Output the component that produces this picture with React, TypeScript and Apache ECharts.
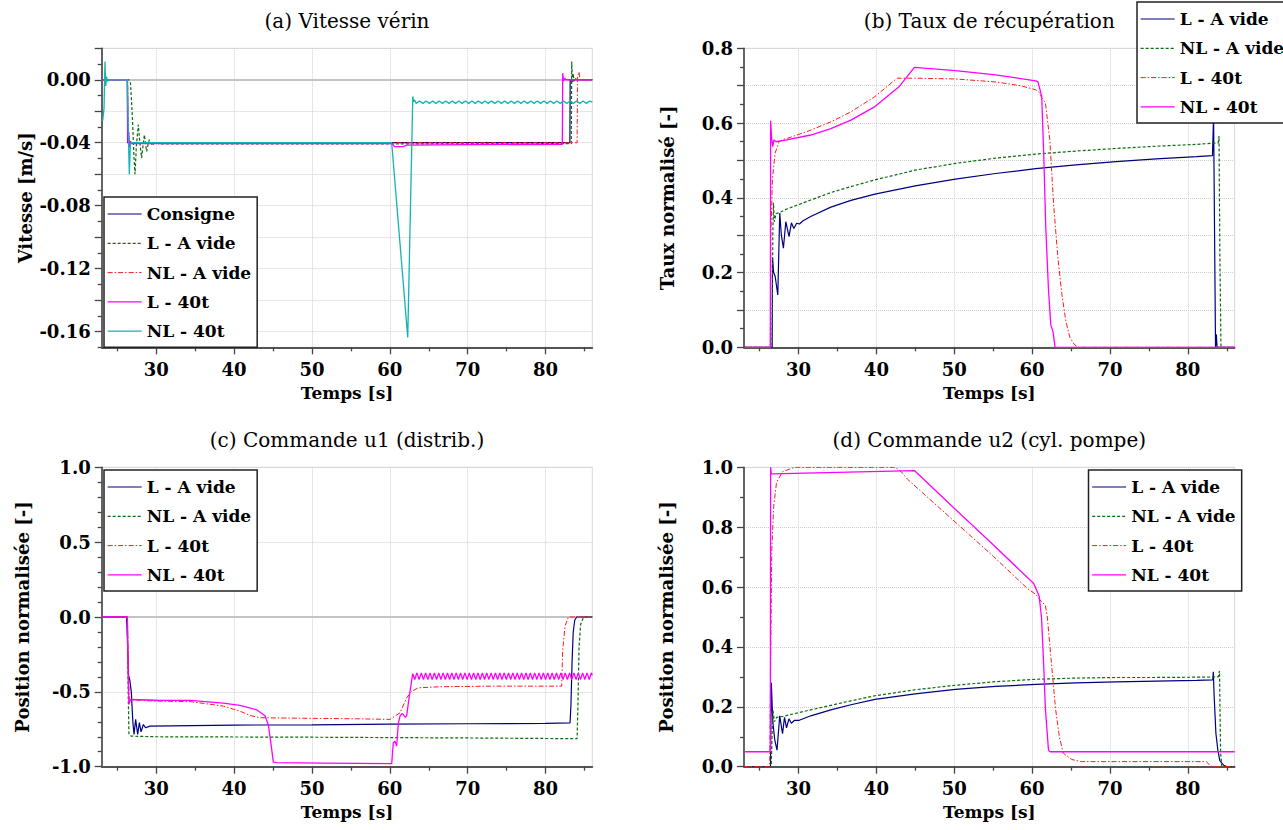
import React, { useEffect, useRef } from 'react';
import * as echarts from 'echarts';

const FONT = '"DejaVu Serif", serif';

// ---------- axes ----------
const X_MIN = 23;
const X_MAX = 86;
const X_MAJOR = [30, 40, 50, 60, 70, 80];
const X_MINOR = [25, 35, 45, 55, 65, 75, 85];

const A_Y = [-0.17, 0.02];
const A_MAJOR = [-0.16, -0.14, -0.12, -0.1, -0.08, -0.06, -0.04, -0.02, 0, 0.02];
const A_LABELS = [-0.16, -0.12, -0.08, -0.04, 0];
const A_MINOR = [-0.17, -0.15, -0.13, -0.11, -0.09, -0.07, -0.05, -0.03, -0.01, 0.01];

const B_Y = [0, 0.8];
const B_MAJOR = [0, 0.1, 0.2, 0.3, 0.4, 0.5, 0.6, 0.7, 0.8];
const B_LABELS = [0, 0.2, 0.4, 0.6, 0.8];
const B_MINOR = [0.05, 0.15, 0.25, 0.35, 0.45, 0.55, 0.65, 0.75];

const C_Y = [-1, 1];
const C_MAJOR = [-1, -0.5, 0, 0.5, 1];
const C_LABELS = [-1, -0.5, 0, 0.5, 1];
const C_MINOR = [-0.9, -0.8, -0.7, -0.6, -0.4, -0.3, -0.2, -0.1, 0.1, 0.2, 0.3, 0.4, 0.6, 0.7, 0.8, 0.9];

const D_Y = [0, 1];
const D_MAJOR = [0, 0.2, 0.4, 0.6, 0.8, 1];
const D_LABELS = [0, 0.2, 0.4, 0.6, 0.8, 1];
const D_MINOR = [0.1, 0.3, 0.5, 0.7, 0.9];

// ---------- (a) Vitesse vérin ----------
const A_consigne = [[23, 0], [26.29, 0], [26.32, -0.04], [83.12, -0.04], [83.16, 0], [86, 0]];
const A_lVide = [[23, 0], [26.5, 0], [26.7, -0.002], [26.95, -0.025], [27.15, -0.05], [27.28, -0.06], [27.45, -0.042], [27.7, -0.0285], [27.9, -0.04], [28.13, -0.0497], [28.3, -0.042], [28.48, -0.035], [28.63, -0.041], [28.78, -0.0455], [28.95, -0.041], [29.12, -0.038], [29.3, -0.04], [29.46, -0.0418], [29.85, -0.0395], [30.3, -0.0407], [60, -0.0408], [83.3, -0.0406], [83.36, 0.0116], [83.45, -0.002], [83.55, 0.004], [83.65, -0.001], [83.8, 0.001], [84, 0], [86, 0]];
const A_nlVide = [[23, 0], [26.33, 0], [26.42, -0.04], [84.05, -0.04], [84.1, 0.002], [84.3, 0.005], [84.4, 0], [86, 0]];
const A_l40 = [[23, 0], [26.3, 0], [26.38, -0.04], [26.48, -0.033], [26.58, -0.043], [26.7, -0.039], [26.85, -0.0405], [60.3, -0.0405], [60.6, -0.0425], [61.7, -0.0425], [62.2, -0.0415], [70, -0.0412], [82.15, -0.041], [82.2, 0.0042], [82.3, -0.001], [82.45, 0.001], [82.6, 0], [86, 0]];
const A_nl40 = [[23, -0.026], [23.13, -0.026], [23.3, -0.018], [23.42, 0.0116], [23.52, -0.004], [23.62, 0.002], [23.75, -0.001], [23.9, 0], [26.3, 0], [26.42, -0.035], [26.55, -0.06], [26.68, -0.041], [26.8, -0.04], [60.24, -0.04], [62.3, -0.1638], [62.95, -0.0106], [63.05, -0.014], [63.15, -0.0128],
  [63.40, -0.0150], [63.82, -0.0135], [64.24, -0.0150], [64.66, -0.0135], [65.08, -0.0150], [65.50, -0.0135], [65.92, -0.0150], [66.34, -0.0135], [66.76, -0.0150], [67.18, -0.0135], [67.60, -0.0150], [68.02, -0.0135], [68.44, -0.0150], [68.86, -0.0135], [69.28, -0.0150], [69.70, -0.0135], [70.12, -0.0150], [70.54, -0.0135], [70.96, -0.0150], [71.38, -0.0135], [71.80, -0.0150], [72.22, -0.0135], [72.64, -0.0150], [73.06, -0.0135], [73.48, -0.0150], [73.90, -0.0135], [74.32, -0.0150], [74.74, -0.0135], [75.16, -0.0150], [75.58, -0.0135], [76.00, -0.0150], [76.42, -0.0135], [76.84, -0.0150], [77.26, -0.0135], [77.68, -0.0150], [78.10, -0.0135], [78.52, -0.0150], [78.94, -0.0135], [79.36, -0.0150], [79.78, -0.0135], [80.20, -0.0150], [80.62, -0.0135], [81.04, -0.0150], [81.46, -0.0135], [81.88, -0.0150], [82.30, -0.0135], [82.72, -0.0150], [83.14, -0.0135], [83.56, -0.0150], [83.98, -0.0135], [84.40, -0.0150], [84.82, -0.0135], [85.24, -0.0150], [85.66, -0.0135], [86, -0.0142]];

// ---------- (b) Taux de récupération ----------
const B_lVide = [[23, 0], [26.62, 0], [26.66, 0.24], [26.8, 0.2], [27.0, 0.19], [27.34, 0.14], [27.59, 0.359], [27.8, 0.3], [28.06, 0.265], [28.37, 0.336], [28.78, 0.296], [29.09, 0.333], [29.4, 0.318], [29.76, 0.332], [30.13, 0.33], [30.54, 0.338], [31.57, 0.35], [34.15, 0.375], [36.73, 0.393], [39.82, 0.41], [44.98, 0.432], [50.14, 0.45], [55.3, 0.465], [60.46, 0.478], [65.62, 0.488], [70.78, 0.497], [75.94, 0.504], [81.1, 0.51], [83.16, 0.513], [83.3, 0.62], [83.55, 0], [83.65, 0.035], [83.75, 0], [86, 0]];
const B_nlVide = [[23, 0], [26.6, 0], [26.7, 0.3], [26.78, 0.387], [26.9, 0.336], [27.1, 0.358], [27.5, 0.36], [28.5, 0.37], [31.57, 0.394], [34.15, 0.414], [36.73, 0.43], [39.82, 0.448], [44.98, 0.474], [50.14, 0.492], [55.3, 0.506], [60.46, 0.517], [65.62, 0.525], [70.78, 0.532], [75.94, 0.538], [81.1, 0.543], [83.9, 0.547], [84.0, 0.565], [84.1, 0.26], [84.25, 0], [86, 0]];
const B_l40 = [[23, 0], [26.38, 0], [26.45, 0.3], [26.65, 0.45], [27.0, 0.52], [27.5, 0.55], [28.0, 0.556], [29, 0.562], [31.57, 0.581], [34.15, 0.603], [36.73, 0.63], [39.82, 0.671], [42.66, 0.72], [44.98, 0.72], [50.14, 0.718], [55.3, 0.71], [58.5, 0.7], [60.46, 0.689], [61.0, 0.68], [61.23, 0.667], [61.7, 0.655], [62.27, 0.555], [62.78, 0.376], [63.3, 0.242], [63.81, 0.143], [64.33, 0.07], [64.84, 0.027], [65.4, 0.008], [65.88, 0], [86, 0]];
const B_nl40 = [[23, 0], [26.38, 0], [26.42, 0.606], [26.55, 0.56], [26.68, 0.537], [26.85, 0.555], [27.1, 0.55], [28.5, 0.555], [31.57, 0.568], [34.15, 0.585], [36.73, 0.608], [39.82, 0.644], [42.9, 0.697], [44.88, 0.749], [50.14, 0.74], [55.3, 0.729], [60.46, 0.713], [60.75, 0.71], [61.0, 0.69], [61.23, 0.671], [61.5, 0.51], [61.75, 0.322], [62.1, 0.154], [62.4, 0.06], [62.7, 0.04], [62.94, 0], [86, 0]];

// ---------- (c) Commande u1 ----------
const C_lVide = [[23, 0], [26.2, 0], [26.3, -0.15], [26.45, -0.39], [26.6, -0.42], [26.8, -0.5], [27.0, -0.7], [27.15, -0.784], [27.36, -0.684], [27.62, -0.784], [27.84, -0.705], [28.05, -0.767], [28.35, -0.718], [28.65, -0.74], [29.2, -0.729], [40.03, -0.722], [50, -0.72], [60.02, -0.716], [70, -0.713], [79.97, -0.711], [83.14, -0.707], [83.25, -0.6], [83.4, -0.3], [83.55, -0.1], [83.75, -0.02], [84.0, 0], [86, 0]];
const C_nlVide = [[23, 0], [26.3, 0], [26.4, -0.5], [26.5, -0.784], [26.8, -0.796], [30, -0.8], [50, -0.803], [70, -0.808], [84.05, -0.813], [84.15, -0.6], [84.3, -0.2], [84.5, -0.05], [84.8, -0.01], [85.2, 0], [86, 0]];
const C_l40 = [[23, 0], [26.3, 0], [26.45, -0.4], [26.55, -0.551], [28, -0.557], [30.06, -0.562], [34.34, -0.565], [38.62, -0.595], [40.76, -0.629], [42.05, -0.658], [43.33, -0.673], [50, -0.677], [55.74, -0.68], [60.02, -0.684], [61.31, -0.64], [62.16, -0.54], [62.81, -0.496], [63.66, -0.473], [66.44, -0.466], [72.86, -0.462], [82.07, -0.462], [82.2, -0.22], [82.5, -0.06], [82.93, 0], [86, 0]];
const C_nl40 = [[23, 0], [26.3, 0], [26.4, -0.4], [26.5, -0.584], [26.7, -0.551], [30, -0.556], [34.34, -0.557], [38.62, -0.575], [40.76, -0.59], [42.9, -0.62], [43.97, -0.66], [44.4, -0.72], [44.83, -0.884], [45.04, -0.969], [45.47, -0.973], [51.46, -0.976], [60.24, -0.98], [60.35, -0.9], [60.45, -0.84], [60.66, -0.83], [60.88, -0.862], [61.09, -0.711], [61.31, -0.662], [61.55, -0.645], [61.74, -0.651], [61.95, -0.67], [62.16, -0.66], [62.5, -0.529], [62.94, -0.378],
  [63.20, -0.418], [63.48, -0.373], [63.76, -0.418], [64.04, -0.373], [64.32, -0.418], [64.60, -0.373], [64.88, -0.418], [65.16, -0.373], [65.44, -0.418], [65.72, -0.373], [66.00, -0.418], [66.28, -0.373], [66.56, -0.418], [66.84, -0.373], [67.12, -0.418], [67.40, -0.373], [67.68, -0.418], [67.96, -0.373], [68.24, -0.418], [68.52, -0.373], [68.80, -0.418], [69.08, -0.373], [69.36, -0.418], [69.64, -0.373], [69.92, -0.418], [70.20, -0.373], [70.48, -0.418], [70.76, -0.373], [71.04, -0.418], [71.32, -0.373], [71.60, -0.418], [71.88, -0.373], [72.16, -0.418], [72.44, -0.373], [72.72, -0.418], [73.00, -0.373], [73.28, -0.418], [73.56, -0.373], [73.84, -0.418], [74.12, -0.373], [74.40, -0.418], [74.68, -0.373], [74.96, -0.418], [75.24, -0.373], [75.52, -0.418], [75.80, -0.373], [76.08, -0.418], [76.36, -0.373], [76.64, -0.418], [76.92, -0.373], [77.20, -0.418], [77.48, -0.373], [77.76, -0.418], [78.04, -0.373], [78.32, -0.418], [78.60, -0.373], [78.88, -0.418], [79.16, -0.373], [79.44, -0.418], [79.72, -0.373], [80.00, -0.418], [80.28, -0.373], [80.56, -0.418], [80.84, -0.373], [81.12, -0.418], [81.40, -0.373], [81.68, -0.418], [81.96, -0.373], [82.24, -0.418], [82.52, -0.373], [82.80, -0.418], [83.08, -0.373], [83.36, -0.418], [83.64, -0.373], [83.92, -0.418], [84.20, -0.373], [84.48, -0.418], [84.76, -0.373], [85.04, -0.418], [85.32, -0.373], [85.60, -0.418], [85.88, -0.373], [86, -0.39]];

// ---------- (d) Commande u2 ----------
const D_lVide = [[23, 0], [26.4, 0], [26.51, 0.28], [26.7, 0.15], [26.95, 0.09], [27.24, 0.055], [27.59, 0.17], [27.95, 0.11], [28.2, 0.165], [28.46, 0.13], [28.77, 0.16], [29.08, 0.145], [29.49, 0.155], [30.1, 0.155], [31.57, 0.17], [34.15, 0.19], [36.73, 0.207], [39.82, 0.225], [44.98, 0.243], [50.14, 0.258], [55.3, 0.268], [60.46, 0.275], [65.62, 0.28], [70.78, 0.283], [75.94, 0.286], [81.1, 0.288], [83.2, 0.29], [83.27, 0.317], [83.35, 0.25], [83.6, 0.111], [83.85, 0.056], [84.1, 0.02], [84.6, 0.005], [85.07, 0], [86, 0]];
const D_nlVide = [[23, 0], [26.5, 0], [26.6, 0.1], [26.72, 0.19], [26.9, 0.15], [27.2, 0.165], [28, 0.168], [31.57, 0.19], [34.15, 0.205], [36.73, 0.22], [39.82, 0.237], [44.98, 0.257], [50.14, 0.272], [55.3, 0.284], [60.46, 0.292], [65.62, 0.296], [70.78, 0.298], [75.94, 0.298], [81.1, 0.299], [83.9, 0.3], [84.06, 0.32], [84.2, 0.05], [84.35, 0], [86, 0]];
const D_l40 = [[23, 0], [26.3, 0], [26.4, 0.28], [26.56, 0.72], [26.82, 0.87], [27.18, 0.95], [27.95, 0.985], [29.49, 1.0], [42.4, 1.0], [43.2, 0.985], [44, 0.96], [50, 0.82], [55, 0.703], [59.4, 0.595], [60.5, 0.575], [61.23, 0.55], [61.7, 0.54], [61.95, 0.5], [62.5, 0.34], [63.0, 0.195], [63.5, 0.1], [64.0, 0.045], [65.1, 0.024], [66.3, 0.017], [82.38, 0.017], [82.8, 0.005], [83.16, 0], [86, 0]];
const D_nl40 = [[23, 0.05], [26.38, 0.05], [26.42, 1.0], [26.5, 0.978], [26.66, 0.978], [35, 0.983], [44.88, 0.989], [50, 0.863], [55, 0.741], [60.2, 0.612], [60.9, 0.57], [61.2, 0.5], [61.5, 0.33], [61.7, 0.195], [62.1, 0.056], [62.3, 0.05], [86, 0.05]];

// ---------- styles ----------
const NAVY = { color: '#000080', width: 1.2, type: 'solid' };
const GREEN = { color: '#0a6e0a', width: 1.2, type: [3, 2] };
const RED = { color: '#ff1a1a', width: 1, type: [5, 2, 1.5, 2] };
const MAG = { color: '#ff00ff', width: 1.3, type: 'solid' };
const TEAL = { color: '#12b3b3', width: 1.3, type: 'solid' };

const GRIDS = [
  { left: 101.7, top: 48.3, width: 490.6, height: 299 },
  { left: 744, top: 48.3, width: 490.6, height: 299 },
  { left: 101.7, top: 467.3, width: 490.6, height: 299.4 },
  { left: 744, top: 467.3, width: 490.6, height: 299.4 },
];

const PANELS = [
  {
    title: '(a) Vitesse vérin', yName: 'Vitesse [m/s]', nameGap: 67, y: A_Y, major: A_MAJOR, labels: A_LABELS, minor: A_MINOR, dec: 2, zero: true,
    series: [['Consigne', A_consigne, NAVY], ['L - A vide', A_lVide, GREEN], ['NL - A vide', A_nlVide, RED], ['L - 40t', A_l40, MAG], ['NL - 40t', A_nl40, TEAL]],
    legend: { left: 104, top: 197 },
  },
  {
    title: '(b) Taux de récupération', yName: 'Taux normalisé [-]', nameGap: 68, y: B_Y, major: B_MAJOR, labels: B_LABELS, minor: B_MINOR, dec: 1, zero: false,
    series: [['L - A vide', B_lVide, NAVY], ['NL - A vide', B_nlVide, GREEN], ['L - 40t', B_l40, RED], ['NL - 40t', B_nl40, MAG]],
    legend: { left: 1137, top: 2 },
  },
  {
    title: '(c) Commande u1 (distrib.)', yName: 'Position normalisée [-]', nameGap: 70, y: C_Y, major: C_MAJOR, labels: C_LABELS, minor: C_MINOR, dec: 1, zero: true,
    series: [['L - A vide', C_lVide, NAVY], ['NL - A vide', C_nlVide, GREEN], ['L - 40t', C_l40, RED], ['NL - 40t', C_nl40, MAG]],
    legend: { left: 104, top: 470 },
  },
  {
    title: '(d) Commande u2 (cyl. pompe)', yName: 'Position normalisée [-]', nameGap: 69, y: D_Y, major: D_MAJOR, labels: D_LABELS, minor: D_MINOR, dec: 1, zero: false,
    series: [['L - A vide', D_lVide, NAVY], ['NL - A vide', D_nlVide, GREEN], ['L - 40t', D_l40, RED], ['NL - 40t', D_nl40, MAG]],
    legend: { left: 1088.5, top: 470 },
  },
];

const AXIS_LINE = { color: '#555', width: 1.8 };
const TICK_LINE = { color: '#444', width: 1.3 };
const SPLIT = { color: '#cfcfcf', type: 'dotted', width: 1 };

function buildOption() {
  const grid: any[] = [];
  const xAxis: any[] = [];
  const yAxis: any[] = [];
  const series: any[] = [];
  const legend: any[] = [];
  const graphic: any[] = [];

  PANELS.forEach((p, i) => {
    const g = GRIDS[i];
    grid.push({ ...g, show: true, borderColor: '#dadada', borderWidth: 1, backgroundColor: 'transparent' });
    xAxis.push({
      type: 'value', gridIndex: i, min: X_MIN, max: X_MAX, position: 'bottom',
      axisLine: { show: true, onZero: false, lineStyle: AXIS_LINE },
      axisTick: { show: true, customValues: X_MAJOR, length: 7, lineStyle: TICK_LINE },
      axisLabel: { customValues: X_MAJOR, formatter: (v: number) => String(Math.round(v)), margin: 13, fontFamily: FONT, fontWeight: 'bold', fontSize: 18, color: '#000' },
      splitLine: { show: true, lineStyle: SPLIT },
      name: 'Temps [s]', nameLocation: 'middle', nameGap: 37,
      nameTextStyle: { fontFamily: FONT, fontWeight: 'bold', fontSize: 17, color: '#000' },
    });
    xAxis.push({
      type: 'value', gridIndex: i, min: X_MIN, max: X_MAX, position: 'bottom',
      axisLine: { show: false, onZero: false },
      axisTick: { show: true, customValues: X_MINOR, length: 4, lineStyle: TICK_LINE },
      axisLabel: { show: false }, splitLine: { show: false },
    });
    yAxis.push({
      type: 'value', gridIndex: i, min: p.y[0], max: p.y[1], position: 'left',
      axisLine: { show: true, onZero: false, lineStyle: AXIS_LINE },
      axisTick: { show: true, customValues: p.major, length: 7, lineStyle: TICK_LINE },
      axisLabel: { customValues: p.labels, formatter: (v: number) => v.toFixed(p.dec), margin: 11, fontFamily: FONT, fontWeight: 'bold', fontSize: 18, color: '#000' },
      splitLine: { show: true, lineStyle: SPLIT },
      name: p.yName, nameLocation: 'middle', nameGap: p.nameGap,
      nameTextStyle: { fontFamily: FONT, fontWeight: 'bold', fontSize: 18, color: '#000' },
    });
    yAxis.push({
      type: 'value', gridIndex: i, min: p.y[0], max: p.y[1], position: 'left',
      axisLine: { show: false, onZero: false },
      axisTick: { show: true, customValues: p.minor, length: 4, lineStyle: TICK_LINE },
      axisLabel: { show: false }, splitLine: { show: false },
    });

    p.series.forEach(([name, data, st]: any, k: number) => {
      const s: any = {
        type: 'line', name, data, xAxisIndex: 2 * i, yAxisIndex: 2 * i,
        showSymbol: false, symbol: 'none', silent: true, z: 3 + k,
        color: st.color, lineStyle: { ...st }, itemStyle: { color: st.color },
      };
      if (k === 0 && p.zero) {
        s.markLine = {
          silent: true, symbol: 'none', label: { show: false }, z: 1,
          lineStyle: { color: '#c4c4c4', width: 2, type: 'solid' },
          data: [{ yAxis: 0 }],
        };
      }
      series.push(s);
    });

    legend.push({
      orient: 'vertical', left: p.legend.left, top: p.legend.top,
      padding: [7, 6, 6, 3], itemGap: 9.3, itemWidth: 34, itemHeight: 14,
      borderColor: '#222', borderWidth: 1.5, backgroundColor: '#fff', selectedMode: false,
      textStyle: { fontFamily: FONT, fontWeight: 'bold', fontSize: 17, color: '#000', width: 97, lineHeight: 20 },
      data: p.series.map(([name, , st]: any) => ({
        name, lineStyle: { ...st },
        itemStyle: { color: st.color, opacity: 0, borderWidth: 0 },
      })),
      z: 10,
    });

    graphic.push({
      type: 'text', x: g.left + g.width / 2, y: g.top - 27,
      style: { text: p.title, fill: '#000', fontFamily: FONT, fontSize: 20, fontWeight: 'normal', align: 'center', verticalAlign: 'middle' },
    });
  });

  return { animation: false, backgroundColor: '#fff', grid, xAxis, yAxis, series, legend, graphic };
}

export default function App() {
  const ref = useRef<HTMLDivElement>(null);
  useEffect(() => {
    const chart = echarts.init(ref.current!, null, { renderer: 'svg' });
    chart.setOption(buildOption() as any);
    return () => chart.dispose();
  }, []);
  return <div ref={ref} style={{ position: 'fixed', left: 0, top: 0, width: 1283, height: 830, background: '#fff' }} />;
}
